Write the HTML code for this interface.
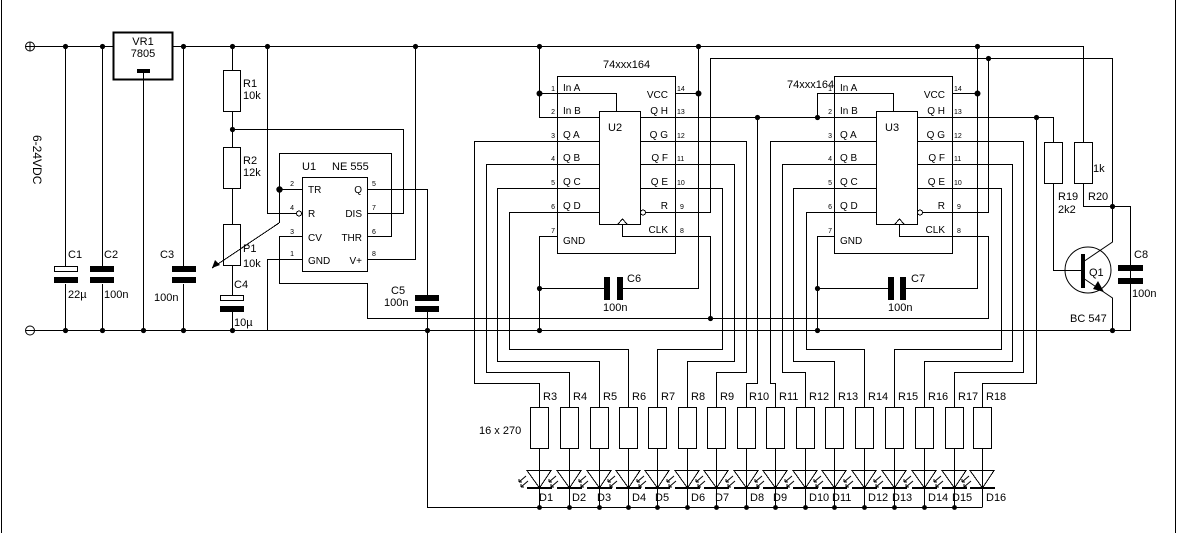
<!DOCTYPE html>
<html><head><meta charset="utf-8"><style>
html,body{margin:0;padding:0;background:#fff;}
svg{display:block;}
text{font-family:"Liberation Sans",Arial,sans-serif;fill:#000;}
.s{font-size:11px;}
.p{font-size:7px;}
.l{font-size:10px;}
</style></head><body>
<svg width="1177" height="533" viewBox="0 0 1177 533" xmlns="http://www.w3.org/2000/svg">
<g stroke="#000" stroke-width="1" fill="none" shape-rendering="crispEdges">
<line x1="1.5" y1="0" x2="1.5" y2="533"/>
<line x1="1175.5" y1="0" x2="1175.5" y2="533"/>
<path d="M34 46.5H113 M172 46.5H1083.5V142"/>
<path d="M34 330.5H1130.5V206"/>
<rect x="113.5" y="32.5" width="59" height="47" stroke-width="2"/>
<line x1="143.5" y1="72" x2="143.5" y2="330"/>
<path d="M65.5 46V266 M65.5 284V330"/>
<rect x="54.5" y="266.5" width="23" height="5"/>
<path d="M102.5 46V266 M102.5 284V330"/>
<path d="M183.5 46V266 M183.5 284V330"/>
<path d="M232.5 46V70 M232.5 111V147 M232.5 188V224 M232.5 265V295 M232.5 312V330"/>
<rect x="223.5" y="70.5" width="17" height="41"/>
<rect x="223.5" y="147.5" width="17" height="41"/>
<rect x="223.5" y="224.5" width="17" height="41"/>
<rect x="220.5" y="295.5" width="23" height="5"/>
<rect x="302.5" y="177.5" width="65" height="94"/>
<path d="M232 129.5H403.5V213.5H367"/>
<path d="M279.5 189.5H302 M279.5 189.5V153.5H391.5V236.5H367"/>
<path d="M279.5 189V223"/>
<path d="M279 223L212 268"/>
<path d="M267.5 46V213.5H296"/>
<path d="M302 259.5H267.5V330"/>
<path d="M302 236.5H279.5V283.5H367.5V318.5H988.5V236.5H953"/>
<path d="M367 189.5H427.5V295 M427.5 312V507.5H982.5"/>
<path d="M367 259.5H415.5V46"/>
<circle cx="299" cy="213.5" r="2.5"/>
<rect x="557.5" y="76.5" width="118" height="177"/>
<rect x="599.5" y="111.5" width="41" height="113"/>
<path d="M539.5 46V117.5H599 M539.5 93.5H616.5V111"/>
<path d="M599 141.5H474.5V383.5H539.5V407"/>
<path d="M599 164.5H486.5V372.5H569.5V407"/>
<path d="M599 188.5H497.5V361.5H599.5V407"/>
<path d="M599 212.5H509.5V349.5H628.5V407"/>
<path d="M640 188.5H722.5V349.5H657.5V407"/>
<path d="M640 164.5H734.5V361.5H687.5V407"/>
<path d="M640 141.5H746.5V372.5H716.5V407"/>
<path d="M640 117.5H876 M757.5 117V383.5H746.5V407"/>
<path d="M646 212.5H710.5V58.5H1112.5V206.5H1130.5"/>
<path d="M618 224L622.5 219L627 224 M622.5 224V236.5H710.5V318"/>
<path d="M557 236.5H539.5V330 M539.5 288.5H604 M623 288.5H698.5V46 M675 93.5H698.5"/>
<circle cx="643" cy="212.5" r="2.5"/>
<rect x="834.5" y="76.5" width="118" height="177"/>
<rect x="876.5" y="111.5" width="41" height="113"/>
<path d="M817.5 117.5V93.5H893.5V111"/>
<path d="M876 141.5H770.5V383.5H775.5V407"/>
<path d="M876 164.5H782.5V372.5H805.5V407"/>
<path d="M876 188.5H793.5V361.5H834.5V407"/>
<path d="M876 212.5H806.5V349.5H864.5V407"/>
<path d="M917 188.5H1001.5V349.5H894.5V407"/>
<path d="M917 164.5H1012.5V361.5H924.5V407"/>
<path d="M917 141.5H1023.5V372.5H954.5V407"/>
<path d="M917 117.5H1053.5V142 M1036.5 117V383.5H982.5V407"/>
<path d="M923 212.5H988.5V58"/>
<path d="M895 224L899.5 219L904 224 M899.5 224V236.5H953"/>
<path d="M834 236.5H817.5V330 M817.5 288.5H888 M906 288.5H977.5V46 M952 93.5H977.5"/>
<circle cx="920" cy="212.5" r="2.5"/>
<rect x="1044.5" y="142.5" width="18" height="41"/>
<rect x="1074.5" y="142.5" width="18" height="41"/>
<path d="M1053.5 183V270.5H1083"/>
<path d="M1083.5 183V206.5H1112"/>
<circle cx="1088" cy="270" r="23" shape-rendering="auto"/>
<path d="M1083 262L1112.5 242V206 M1083 278L1112.5 298V330" shape-rendering="auto"/>
<path d="M1130.5 206V265 M1130.5 284V330"/>
<g>
<rect x="530.5" y="407.5" width="18" height="41"/><path d="M539.5 448V507 M527 470.5H551L539.5 488Z"/>
<rect x="560.5" y="407.5" width="18" height="41"/><path d="M569.5 448V507 M557 470.5H581L569.5 488Z"/>
<rect x="590.5" y="407.5" width="18" height="41"/><path d="M599.5 448V507 M587 470.5H611L599.5 488Z"/>
<rect x="619.5" y="407.5" width="18" height="41"/><path d="M628.5 448V507 M616 470.5H640L628.5 488Z"/>
<rect x="648.5" y="407.5" width="18" height="41"/><path d="M657.5 448V507 M645 470.5H669L657.5 488Z"/>
<rect x="678.5" y="407.5" width="18" height="41"/><path d="M687.5 448V507 M675 470.5H699L687.5 488Z"/>
<rect x="707.5" y="407.5" width="18" height="41"/><path d="M716.5 448V507 M704 470.5H728L716.5 488Z"/>
<rect x="737.5" y="407.5" width="18" height="41"/><path d="M746.5 448V507 M734 470.5H758L746.5 488Z"/>
<rect x="766.5" y="407.5" width="18" height="41"/><path d="M775.5 448V507 M763 470.5H787L775.5 488Z"/>
<rect x="796.5" y="407.5" width="18" height="41"/><path d="M805.5 448V507 M793 470.5H817L805.5 488Z"/>
<rect x="825.5" y="407.5" width="18" height="41"/><path d="M834.5 448V507 M822 470.5H846L834.5 488Z"/>
<rect x="855.5" y="407.5" width="18" height="41"/><path d="M864.5 448V507 M852 470.5H876L864.5 488Z"/>
<rect x="885.5" y="407.5" width="18" height="41"/><path d="M894.5 448V507 M882 470.5H906L894.5 488Z"/>
<rect x="915.5" y="407.5" width="18" height="41"/><path d="M924.5 448V507 M912 470.5H936L924.5 488Z"/>
<rect x="945.5" y="407.5" width="18" height="41"/><path d="M954.5 448V507 M942 470.5H966L954.5 488Z"/>
<rect x="973.5" y="407.5" width="18" height="41"/><path d="M982.5 448V507 M970 470.5H994L982.5 488Z"/>
</g>
</g>
<g fill="#000">
<rect x="54" y="277" width="24" height="6"/>
<rect x="90" y="266" width="24" height="6"/><rect x="90" y="277" width="24" height="6"/>
<rect x="172" y="266" width="24" height="6"/><rect x="172" y="277" width="24" height="6"/>
<rect x="220" y="306" width="24" height="6"/>
<rect x="415" y="295" width="24" height="6"/><rect x="415" y="306" width="24" height="6"/>
<rect x="604" y="277" width="6" height="23"/><rect x="617" y="277" width="6" height="23"/>
<rect x="888" y="277" width="6" height="23"/><rect x="900" y="277" width="6" height="23"/>
<rect x="1118" y="265" width="25" height="6"/><rect x="1118" y="278" width="25" height="6"/>
<rect x="137" y="69" width="13" height="4"/>
<rect x="1081" y="254" width="4" height="34"/>
<path d="M212 268L215 260L220 265Z"/>
<path d="M1104 292L1098 281L1093 289Z"/>
<g>
<rect x="527" y="487" width="25" height="2"/><rect x="557" y="487" width="25" height="2"/><rect x="587" y="487" width="25" height="2"/><rect x="616" y="487" width="25" height="2"/><rect x="645" y="487" width="25" height="2"/><rect x="675" y="487" width="25" height="2"/><rect x="704" y="487" width="25" height="2"/><rect x="734" y="487" width="25" height="2"/><rect x="763" y="487" width="25" height="2"/><rect x="793" y="487" width="25" height="2"/><rect x="822" y="487" width="25" height="2"/><rect x="852" y="487" width="25" height="2"/><rect x="882" y="487" width="25" height="2"/><rect x="912" y="487" width="25" height="2"/><rect x="942" y="487" width="25" height="2"/><rect x="970" y="487" width="25" height="2"/>
</g>
<g>
<circle cx="65.5" cy="46.5" r="2.6"/><circle cx="102.5" cy="46.5" r="2.6"/><circle cx="183.5" cy="46.5" r="2.6"/><circle cx="232.5" cy="46.5" r="2.6"/><circle cx="267.5" cy="46.5" r="2.6"/><circle cx="415.5" cy="46.5" r="2.6"/><circle cx="539.5" cy="46.5" r="2.6"/><circle cx="698.5" cy="46.5" r="2.6"/><circle cx="977.5" cy="46.5" r="2.6"/>
<circle cx="65.5" cy="330.5" r="2.6"/><circle cx="102.5" cy="330.5" r="2.6"/><circle cx="143.5" cy="330.5" r="2.6"/><circle cx="183.5" cy="330.5" r="2.6"/><circle cx="232.5" cy="330.5" r="2.6"/><circle cx="427.5" cy="330.5" r="2.6"/><circle cx="539.5" cy="330.5" r="2.6"/><circle cx="817.5" cy="330.5" r="2.6"/><circle cx="1112.5" cy="330.5" r="2.6"/>
<circle cx="232.5" cy="129.5" r="2.6"/><circle cx="279.5" cy="189.5" r="3.2"/>
<circle cx="539.5" cy="93.5" r="3"/><circle cx="698.5" cy="93.5" r="3"/><circle cx="977.5" cy="93.5" r="3"/>
<circle cx="757.5" cy="117.5" r="2.6"/><circle cx="817.5" cy="117.5" r="2.6"/><circle cx="1036.5" cy="117.5" r="2.6"/>
<circle cx="988.5" cy="58.5" r="2.6"/><circle cx="1112.5" cy="206.5" r="2.6"/>
<circle cx="539.5" cy="288.5" r="2.6"/><circle cx="817.5" cy="288.5" r="2.6"/>
<circle cx="710.5" cy="318.5" r="2.6"/>
<circle cx="539.5" cy="507.5" r="2.4"/><circle cx="569.5" cy="507.5" r="2.4"/><circle cx="599.5" cy="507.5" r="2.4"/><circle cx="628.5" cy="507.5" r="2.4"/><circle cx="657.5" cy="507.5" r="2.4"/><circle cx="687.5" cy="507.5" r="2.4"/><circle cx="716.5" cy="507.5" r="2.4"/><circle cx="746.5" cy="507.5" r="2.4"/><circle cx="775.5" cy="507.5" r="2.4"/><circle cx="805.5" cy="507.5" r="2.4"/><circle cx="834.5" cy="507.5" r="2.4"/><circle cx="864.5" cy="507.5" r="2.4"/><circle cx="894.5" cy="507.5" r="2.4"/><circle cx="924.5" cy="507.5" r="2.4"/><circle cx="954.5" cy="507.5" r="2.4"/>
</g>
</g>
<g stroke="#000" fill="#fff">
<circle cx="30" cy="46.5" r="4.5"/><circle cx="30" cy="330.5" r="4.5"/>
</g>
<path d="M26 46.5H34 M30 42.5V50.5 M26 330.5H34" stroke="#000"/>
<g stroke="#000" stroke-width="1" fill="none">
<path d="M526 476l-7 6m0 0h3m-3 0v-3 M528 481l-7 6m0 0h3m-3 0v-3"/>
<path d="M556 476l-7 6m0 0h3m-3 0v-3 M558 481l-7 6m0 0h3m-3 0v-3"/>
<path d="M586 476l-7 6m0 0h3m-3 0v-3 M588 481l-7 6m0 0h3m-3 0v-3"/>
<path d="M615 476l-7 6m0 0h3m-3 0v-3 M617 481l-7 6m0 0h3m-3 0v-3"/>
<path d="M644 476l-7 6m0 0h3m-3 0v-3 M646 481l-7 6m0 0h3m-3 0v-3"/>
<path d="M674 476l-7 6m0 0h3m-3 0v-3 M676 481l-7 6m0 0h3m-3 0v-3"/>
<path d="M703 476l-7 6m0 0h3m-3 0v-3 M705 481l-7 6m0 0h3m-3 0v-3"/>
<path d="M733 476l-7 6m0 0h3m-3 0v-3 M735 481l-7 6m0 0h3m-3 0v-3"/>
<path d="M762 476l-7 6m0 0h3m-3 0v-3 M764 481l-7 6m0 0h3m-3 0v-3"/>
<path d="M792 476l-7 6m0 0h3m-3 0v-3 M794 481l-7 6m0 0h3m-3 0v-3"/>
<path d="M821 476l-7 6m0 0h3m-3 0v-3 M823 481l-7 6m0 0h3m-3 0v-3"/>
<path d="M851 476l-7 6m0 0h3m-3 0v-3 M853 481l-7 6m0 0h3m-3 0v-3"/>
<path d="M881 476l-7 6m0 0h3m-3 0v-3 M883 481l-7 6m0 0h3m-3 0v-3"/>
<path d="M911 476l-7 6m0 0h3m-3 0v-3 M913 481l-7 6m0 0h3m-3 0v-3"/>
<path d="M941 476l-7 6m0 0h3m-3 0v-3 M943 481l-7 6m0 0h3m-3 0v-3"/>
<path d="M969 476l-7 6m0 0h3m-3 0v-3 M971 481l-7 6m0 0h3m-3 0v-3"/>
</g>
<g class="s">
<text x="143" y="45" text-anchor="middle">VR1</text><text x="143" y="57" text-anchor="middle">7805</text>
<text transform="translate(33,135) rotate(90)" font-size="12">6-24VDC</text>
<text x="68" y="258">C1</text><text x="68" y="298">22µ</text>
<text x="104" y="258">C2</text><text x="104" y="298">100n</text>
<text x="160" y="258">C3</text><text x="154" y="301">100n</text>
<text x="243" y="87">R1</text><text x="243" y="99">10k</text>
<text x="243" y="164">R2</text><text x="243" y="176">12k</text>
<text x="243" y="252">P1</text><text x="243" y="267">10k</text>
<text x="234" y="288">C4</text><text x="234" y="326">10µ</text>
<text x="302" y="170">U1</text><text x="332" y="170">NE 555</text>
<text x="391" y="294">C5</text><text x="384" y="306">100n</text>
<text x="603" y="68">74xxx164</text><text x="608" y="131">U2</text>
<text x="787" y="88">74xxx164</text><text x="885" y="131">U3</text>
<text x="627" y="282">C6</text><text x="603" y="311">100n</text>
<text x="911" y="282">C7</text><text x="888" y="311">100n</text>
<text x="1093" y="172">1k</text>
<text x="1058" y="200">R19</text><text x="1058" y="213">2k2</text>
<text x="1088" y="200">R20</text>
<text x="1089" y="276">Q1</text>
<text x="1070" y="322">BC 547</text>
<text x="1134" y="258">C8</text><text x="1132" y="297">100n</text>
<text x="479" y="434">16 x 270</text>
<text x="543" y="400">R3</text><text x="573" y="400">R4</text><text x="603" y="400">R5</text><text x="632" y="400">R6</text><text x="661" y="400">R7</text><text x="691" y="400">R8</text><text x="720" y="400">R9</text><text x="749" y="400">R10</text><text x="779" y="400">R11</text><text x="809" y="400">R12</text><text x="838" y="400">R13</text><text x="868" y="400">R14</text><text x="898" y="400">R15</text><text x="928" y="400">R16</text><text x="958" y="400">R17</text><text x="986" y="400">R18</text>
<text x="539" y="501">D1</text><text x="572" y="501">D2</text><text x="597" y="501">D3</text><text x="632" y="501">D4</text><text x="655" y="501">D5</text><text x="691" y="501">D6</text><text x="715" y="501">D7</text><text x="750" y="501">D8</text><text x="773" y="501">D9</text><text x="809" y="501">D10</text><text x="832" y="501">D11</text><text x="868" y="501">D12</text><text x="892" y="501">D13</text><text x="928" y="501">D14</text><text x="952" y="501">D15</text><text x="986" y="501">D16</text>
</g>
<g class="l">
<text x="308" y="193">TR</text><text x="308" y="217">R</text><text x="308" y="241">CV</text><text x="308" y="264">GND</text>
<text x="362" y="193" text-anchor="end">Q</text><text x="362" y="217" text-anchor="end">DIS</text><text x="362" y="241" text-anchor="end">THR</text><text x="362" y="264" text-anchor="end">V+</text>
<text x="563" y="91">In A</text><text x="563" y="114">In B</text><text x="563" y="138">Q A</text><text x="563" y="161">Q B</text><text x="563" y="185">Q C</text><text x="563" y="209">Q D</text><text x="563" y="244">GND</text>
<text x="668" y="98" text-anchor="end">VCC</text><text x="668" y="114" text-anchor="end">Q H</text><text x="668" y="138" text-anchor="end">Q G</text><text x="668" y="161" text-anchor="end">Q F</text><text x="668" y="185" text-anchor="end">Q E</text><text x="668" y="209" text-anchor="end">R</text><text x="668" y="233" text-anchor="end">CLK</text>
<text x="840" y="91">In A</text><text x="840" y="114">In B</text><text x="840" y="138">Q A</text><text x="840" y="161">Q B</text><text x="840" y="185">Q C</text><text x="840" y="209">Q D</text><text x="840" y="244">GND</text>
<text x="945" y="98" text-anchor="end">VCC</text><text x="945" y="114" text-anchor="end">Q H</text><text x="945" y="138" text-anchor="end">Q G</text><text x="945" y="161" text-anchor="end">Q F</text><text x="945" y="185" text-anchor="end">Q E</text><text x="945" y="209" text-anchor="end">R</text><text x="945" y="233" text-anchor="end">CLK</text>
</g>
<g class="p">
<text x="294" y="186" text-anchor="end">2</text><text x="294" y="210" text-anchor="end">4</text><text x="294" y="234" text-anchor="end">3</text><text x="294" y="256" text-anchor="end">1</text>
<text x="372" y="186">5</text><text x="372" y="210">7</text><text x="372" y="234">6</text><text x="372" y="256">8</text>
<text x="555" y="91" text-anchor="end">1</text><text x="555" y="114" text-anchor="end">2</text><text x="555" y="138" text-anchor="end">3</text><text x="555" y="161" text-anchor="end">4</text><text x="555" y="185" text-anchor="end">5</text><text x="555" y="209" text-anchor="end">6</text><text x="555" y="233" text-anchor="end">7</text>
<text x="677" y="91">14</text><text x="677" y="114">13</text><text x="677" y="138">12</text><text x="677" y="161">11</text><text x="677" y="185">10</text><text x="680" y="209">9</text><text x="680" y="233">8</text>
<text x="832" y="91" text-anchor="end">1</text><text x="832" y="114" text-anchor="end">2</text><text x="832" y="138" text-anchor="end">3</text><text x="832" y="161" text-anchor="end">4</text><text x="832" y="185" text-anchor="end">5</text><text x="832" y="209" text-anchor="end">6</text><text x="832" y="233" text-anchor="end">7</text>
<text x="954" y="91">14</text><text x="954" y="114">13</text><text x="954" y="138">12</text><text x="954" y="161">11</text><text x="954" y="185">10</text><text x="957" y="209">9</text><text x="957" y="233">8</text>
</g>
</svg>
</body></html>
